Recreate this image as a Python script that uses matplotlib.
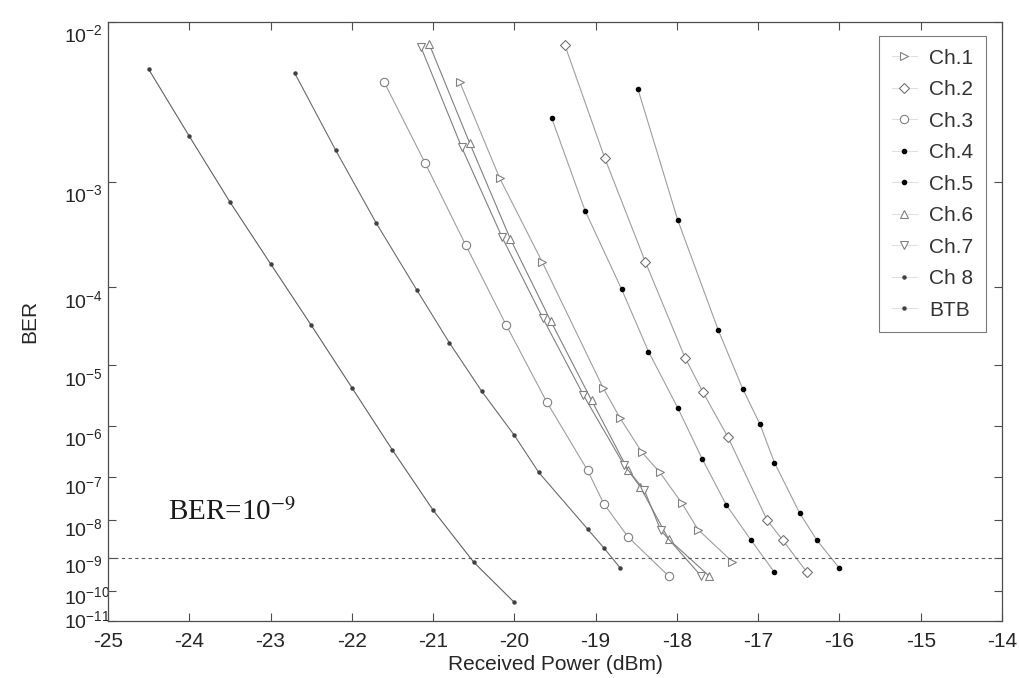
"""
BER curves for the 8 channels and back-to-back, on a Q-type BER axis
"""
import math
import numpy as np
import matplotlib
matplotlib.use("Agg")
import matplotlib.pyplot as plt
from matplotlib.ticker import FixedLocator, FixedFormatter, NullLocator
from matplotlib.transforms import ScaledTranslation

plt.rcParams['font.family'] = 'Liberation Sans'
plt.rcParams['mathtext.fontset'] = 'custom'
plt.rcParams['mathtext.rm'] = 'Liberation Sans'
plt.rcParams['mathtext.it'] = 'Liberation Sans:italic'
plt.rcParams['mathtext.bf'] = 'Liberation Sans:bold'
plt.rcParams['axes.unicode_minus'] = False

# measured points, received power (dBm) / BER
btb_p = [-24.5, -24.0, -23.5, -23.0, -22.5, -22.0, -21.5, -21.0, -20.5, -20.0]
btb_ber = [5.7e-3, 2.2e-3, 6.9e-4, 1.8e-4, 3.5e-5, 4.5e-6, 3.55e-7, 1.76e-8, 7.5e-10, 4.3e-11]

ch1_p = [-20.67, -20.18, -19.66, -18.91, -18.70, -18.43, -18.21, -17.94, -17.74, -17.32]
ch1_ber = [4.8e-3, 1.08e-3, 1.9e-4, 4.5e-6, 1.4e-6, 3.2e-7, 1.25e-7, 2.6e-8, 5.8e-9, 7.8e-10]

ch2_p = [-19.38, -18.89, -18.39, -17.90, -17.68, -17.37, -16.89, -16.70, -16.40]
ch2_ber = [7.7e-3, 1.55e-3, 1.9e-4, 1.27e-5, 3.8e-6, 6.2e-7, 1.0e-8, 3.1e-9, 3.8e-10]

ch3_p = [-21.6, -21.1, -20.6, -20.1, -19.6, -19.1, -18.9, -18.6, -18.1]
ch3_ber = [4.8e-3, 1.42e-3, 2.8e-4, 3.5e-5, 2.6e-6, 1.39e-7, 2.5e-8, 3.7e-9, 2.9e-10]

ch4_p = [-19.54, -19.13, -18.68, -18.35, -17.99, -17.69, -17.39, -17.09, -16.80]
ch4_ber = [2.9e-3, 5.8e-4, 9.5e-5, 1.55e-5, 2.1e-6, 2.4e-7, 2.3e-8, 3.1e-9, 3.8e-10]

ch5_p = [-18.48, -17.99, -17.49, -17.19, -16.98, -16.80, -16.49, -16.28, -16.0]
ch5_ber = [4.4e-3, 4.8e-4, 3.0e-5, 4.3e-6, 1.1e-6, 2.0e-7, 1.5e-8, 3.1e-9, 5.0e-10]

ch6_p = [-21.05, -20.55, -20.05, -19.55, -19.05, -18.6, -18.45, -18.1, -17.6]
ch6_ber = [7.8e-3, 1.97e-3, 3.2e-4, 3.9e-5, 2.8e-6, 1.39e-7, 6.0e-8, 3.2e-9, 2.9e-10]

ch7_p = [-21.15, -20.65, -20.15, -19.65, -19.15, -18.65, -18.4, -18.2, -17.7]
ch7_ber = [7.5e-3, 1.85e-3, 3.3e-4, 4.3e-5, 3.4e-6, 1.77e-7, 5.1e-8, 5.6e-9, 2.9e-10]

ch8_p = [-22.7, -22.2, -21.7, -21.2, -20.8, -20.4, -20.0, -19.7, -19.1, -18.9, -18.7]
ch8_ber = [5.4e-3, 1.76e-3, 4.5e-4, 9.3e-5, 2.05e-5, 3.9e-6, 6.8e-7, 1.25e-7, 6.0e-9, 1.9e-9, 5.2e-10]

ber_ref = 1e-9
x_ticks = [-25, -24, -23, -22, -21, -20, -19, -18, -17, -16, -15, -14]
y_exps = [2, 3, 4, 5, 6, 7, 8, 9, 10, 11]
# how far (px) each y label baseline sits below its tick
y_label_drop = [20, 20, 21, 21, 20, 17, 16, 15, 13, 7]

# BER axis: -log10(Q) with BER = 0.5*erfc(Q/sqrt(2))
q_grid = np.linspace(0.0, 12.0, 24001)
logber_grid = np.log10([0.5 * math.erfc(q / math.sqrt(2)) for q in q_grid])


def ber_fwd(b):
    b = np.clip(np.asarray(b, dtype=float), 1e-30, 0.49)
    q = np.interp(np.log10(b), logber_grid[::-1], q_grid[::-1])
    return -np.log10(q)


def ber_inv(v):
    q = 10.0 ** (-np.asarray(v, dtype=float))
    return 10.0 ** np.interp(q, q_grid, logber_grid)


fig = plt.figure(figsize=(10.19, 6.78), dpi=100)
ax = fig.add_axes([0.106, 0.0841, 0.8773, 0.8839])
ax.set_yscale('function', functions=(ber_fwd, ber_inv))

open_style = dict(mfc='white', mec='0.5', ms=6, mew=0.8)
dot_style = dict(mfc='black', mec='black', ms=3)
lc = '0.62'
lw = 0.8

ax.plot(ch1_p, ch1_ber, color=lc, lw=lw, marker='>', label='Ch.1', **open_style)
ax.plot(ch2_p, ch2_ber, color=lc, lw=lw, marker='D', label='Ch.2',
        mfc='white', mec='0.45', ms=5, mew=0.8)
ax.plot(ch3_p, ch3_ber, color=lc, lw=lw, marker='o', label='Ch.3', **open_style)
ax.plot(ch4_p, ch4_ber, color=lc, lw=lw, marker='o', label='Ch.4', **dot_style)
ax.plot(ch5_p, ch5_ber, color=lc, lw=lw, marker='o', label='Ch.5', **dot_style)
ax.plot(ch6_p, ch6_ber, color='0.5', lw=lw, marker='^', label='Ch.6', **open_style)
ax.plot(ch7_p, ch7_ber, color='0.5', lw=lw, marker='v', label='Ch.7', **open_style)
ax.plot(ch8_p, ch8_ber, color='0.42', lw=lw, marker='o', label='Ch 8',
        mfc='0.25', mec='0.25', ms=2.2)
ax.plot(btb_p, btb_ber, color='0.38', lw=lw, marker='o', label='BTB',
        mfc='0.25', mec='0.25', ms=2.2)

ax.axhline(ber_ref, color='0.35', lw=0.8, ls=(0, (3, 3)))
ax.text(-24.26, 1e-8, 'BER=10$^{-9}$', family='Liberation Serif', fontsize=21,
        math_fontfamily='stix', color='0.1', va='baseline')

ax.set_xlim(-25, -14)
ax.set_ylim(1e-11, 1e-2)
ax.xaxis.set_major_locator(FixedLocator(x_ticks))
ax.yaxis.set_major_locator(FixedLocator([10.0 ** -e for e in y_exps]))
ax.yaxis.set_major_formatter(FixedFormatter([r'$\mathregular{10^{-%d}}$' % e for e in y_exps]))
ax.yaxis.set_minor_locator(NullLocator())
ax.xaxis.set_minor_locator(NullLocator())

ax.tick_params(direction='in', top=True, right=True, length=6, width=0.8,
               color='0.3', labelcolor='0.15')
ax.tick_params(axis='x', pad=8, labelsize=15)
ax.tick_params(axis='y', pad=31.7, labelsize=14)
for lbl, drop in zip(ax.get_yticklabels(), y_label_drop):
    lbl.set_horizontalalignment('left')
    lbl.set_verticalalignment('baseline')
    lbl.set_transform(lbl.get_transform()
                      + ScaledTranslation(0, -drop * 0.72 / 72, fig.dpi_scale_trans))
for sp in ax.spines.values():
    sp.set_color('0.3')
    sp.set_linewidth(0.9)

ax.set_xlabel('Received Power (dBm)', fontsize=15, color='0.15', labelpad=3)
ax.set_ylabel('BER', fontsize=15, color='0.15', labelpad=18)

leg = ax.legend(loc='upper right', bbox_to_anchor=(0.982, 0.976), borderaxespad=0,
                fontsize=15, frameon=True, fancybox=False, edgecolor='0.35',
                handlelength=1.2, handletextpad=0.6, labelspacing=0.6,
                borderpad=0.6)
leg.get_frame().set_linewidth(0.8)
for t in leg.get_texts():
    t.set_color('0.2')
for ln in leg.get_lines():
    ln.set_color('0.88')

fig.savefig('out.png', dpi=100)
